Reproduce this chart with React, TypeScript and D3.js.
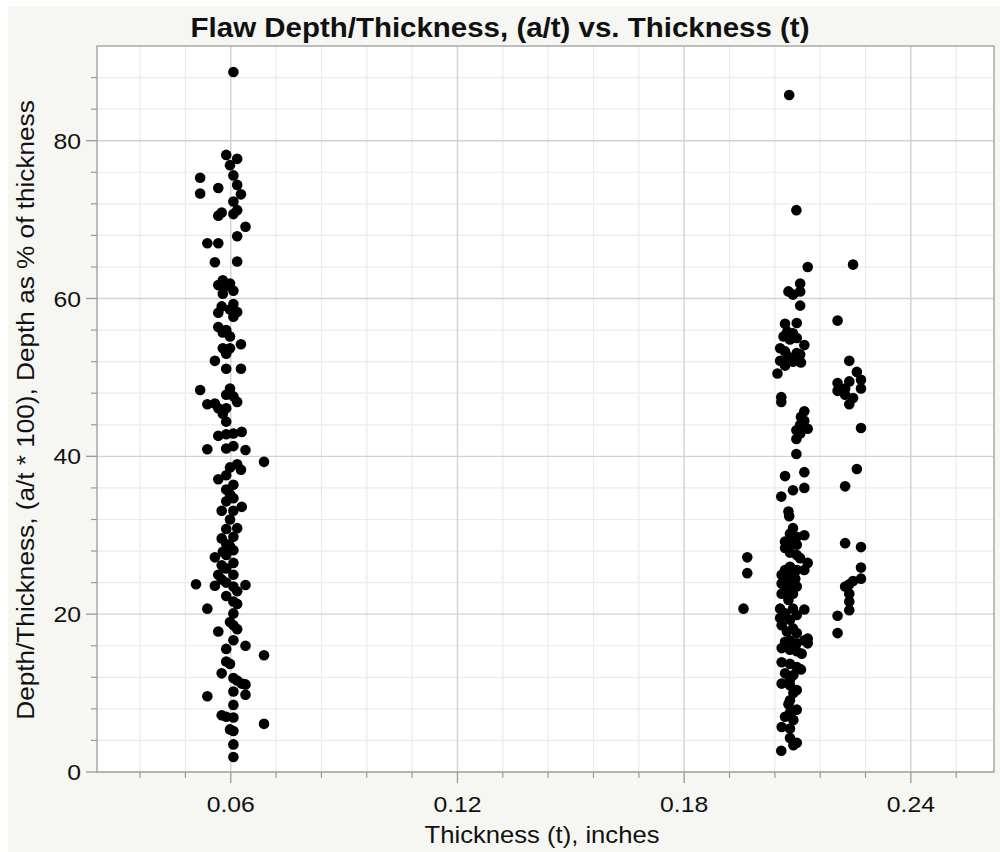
import React from "react";
import * as d3 from "d3";

// Title and axis captions
const chartTitle = "Flaw Depth/Thickness, (a/t) vs. Thickness (t)";
const xAxisTitle = "Thickness (t), inches";
const yAxisTitle = "Depth/Thickness, (a/t * 100), Depth as % of thickness";

// Axis ticks
const xMajorTicks = [0.06, 0.12, 0.18, 0.24];
const yMajorTicks = [0, 20, 40, 60, 80];

// Cluster near t = 0.06 in : [thickness, depth %]
const thinWallFlaws: [number, number][] = [
  [0.0607, 88.7], [0.0588, 78.2], [0.0617, 77.7], [0.0598, 76.9], [0.0519, 75.3], [0.0607, 75.6],
  [0.0617, 74.4], [0.0567, 74.0], [0.0519, 73.3], [0.0627, 73.2], [0.0607, 72.3], [0.0617, 71.2],
  [0.0576, 70.9], [0.0567, 70.5], [0.0607, 70.7], [0.0639, 69.1], [0.0617, 67.9], [0.0538, 67.0],
  [0.0567, 67.0],
  [0.0558, 64.6], [0.0617, 64.7], [0.0579, 62.3], [0.0598, 61.9], [0.0567, 61.7], [0.0588, 61.6],
  [0.0607, 61.0], [0.0579, 60.6], [0.0576, 59.0], [0.0607, 59.3], [0.0567, 58.2], [0.0598, 58.6],
  [0.0617, 58.3], [0.0607, 57.7], [0.0567, 56.4], [0.0588, 56.0], [0.0579, 55.7], [0.0598, 55.2],
  [0.0627, 54.2], [0.0579, 53.7], [0.0598, 53.7], [0.0588, 53.0], [0.0558, 52.1], [0.0588, 51.1],
  [0.0627, 51.1], [0.0519, 48.4], [0.0598, 48.6], [0.0588, 47.8], [0.0607, 47.6], [0.0617, 46.9],
  [0.0538, 46.6], [0.0558, 46.7], [0.0567, 46.1], [0.0588, 46.1], [0.0579, 45.4], [0.0588, 44.4],
  [0.0567, 42.6], [0.0588, 42.8], [0.0607, 42.9], [0.0629, 43.1],
  [0.0538, 40.9], [0.0588, 41.0], [0.0607, 41.3], [0.0639, 40.8], [0.0688, 39.3], [0.0617, 39.0],
  [0.0598, 38.6], [0.0627, 38.3], [0.0588, 37.6], [0.0567, 37.1], [0.0607, 36.4], [0.0588, 35.8],
  [0.0598, 35.2], [0.0607, 34.7], [0.0588, 34.3], [0.0629, 33.6], [0.0576, 33.1], [0.0607, 33.1],
  [0.0598, 32.0], [0.0617, 30.9], [0.0588, 30.8], [0.0607, 29.8], [0.0576, 29.6], [0.0588, 28.9],
  [0.0598, 28.6], [0.0607, 28.1], [0.0579, 27.9], [0.0588, 27.5], [0.0558, 27.2], [0.0607, 26.5],
  [0.0576, 26.2], [0.0588, 25.8], [0.0607, 25.0], [0.0567, 25.0], [0.0576, 24.4], [0.0588, 24.0],
  [0.0508, 23.8], [0.0558, 23.6], [0.0639, 23.7], [0.0607, 23.5], [0.0617, 22.9], [0.0588, 22.3],
  [0.0607, 21.6], [0.0617, 21.3], [0.0538, 20.7], [0.0607, 20.1],
  [0.0598, 19.0], [0.0607, 18.6], [0.0617, 18.1], [0.0567, 17.8], [0.0607, 16.7], [0.0639, 16.0],
  [0.0588, 15.6], [0.0688, 14.8], [0.0588, 14.0], [0.0598, 13.7], [0.0576, 12.5], [0.0607, 11.9],
  [0.0617, 11.6], [0.0629, 11.2], [0.0639, 11.1], [0.0538, 9.6], [0.0607, 10.2], [0.0639, 9.8],
  [0.0607, 8.5], [0.0576, 7.2], [0.0588, 7.0], [0.0607, 6.9], [0.0688, 6.1], [0.0598, 5.4],
  [0.0607, 5.2], [0.0607, 3.5], [0.0607, 1.9],
];

// Cluster near t = 0.21 in : [thickness, depth %]
const thickWallFlaws: [number, number][] = [
  [0.2078, 85.8], [0.2097, 71.2], [0.2127, 64.0], [0.2247, 64.3], [0.2107, 61.9], [0.2076, 60.9],
  [0.2088, 60.5], [0.2107, 60.9],
  [0.2107, 59.1], [0.2206, 57.2], [0.2067, 56.8], [0.2098, 56.9], [0.2073, 55.8], [0.2088, 55.6],
  [0.2063, 55.2], [0.2098, 55.0], [0.2080, 54.8], [0.2118, 54.1], [0.2054, 53.7], [0.2067, 53.3],
  [0.2098, 53.1], [0.2076, 52.6], [0.2107, 52.9], [0.2054, 52.1], [0.2088, 52.0], [0.2109, 51.9],
  [0.2067, 51.5], [0.2047, 50.5],
  [0.2237, 52.1], [0.2257, 50.7], [0.2268, 49.7], [0.2237, 49.5], [0.2206, 49.3], [0.2268, 48.6],
  [0.2226, 48.6], [0.2206, 48.3], [0.2226, 47.8], [0.2247, 47.4], [0.2237, 46.6],
  [0.2057, 47.5], [0.2057, 46.9],
  [0.2118, 45.7], [0.2109, 45.0], [0.2118, 44.5], [0.2107, 44.0], [0.2127, 43.5], [0.2097, 43.3],
  [0.2107, 42.9], [0.2097, 42.2], [0.2268, 43.6], [0.2097, 40.3], [0.2257, 38.4], [0.2067, 37.5],
  [0.2118, 38.0], [0.2226, 36.2], [0.2088, 35.7], [0.2118, 36.0], [0.2057, 34.9],
  [0.2076, 33.0], [0.2078, 32.4], [0.2088, 30.9], [0.2080, 30.2], [0.2118, 30.0], [0.2098, 29.8],
  [0.2067, 29.2], [0.2088, 29.0], [0.2098, 28.8], [0.2226, 29.0], [0.2268, 28.5], [0.2067, 28.4],
  [0.2080, 27.8], [0.2098, 27.5], [0.2107, 27.1], [0.1967, 27.2], [0.2127, 26.5], [0.2080, 26.0],
  [0.2067, 25.6], [0.2098, 25.6], [0.2118, 25.6], [0.2268, 25.9], [0.1967, 25.2], [0.2058, 25.0],
  [0.2080, 24.8], [0.2094, 24.5], [0.2067, 24.3], [0.2058, 23.9], [0.2268, 24.5], [0.2247, 24.2],
  [0.2237, 23.8], [0.2226, 23.5], [0.2088, 23.7], [0.2098, 23.5], [0.2076, 23.3], [0.2067, 22.9],
  [0.2058, 22.6], [0.2088, 22.6], [0.2237, 22.6], [0.2076, 21.8], [0.2237, 21.6], [0.1957, 20.7],
  [0.2118, 20.6], [0.2054, 20.7], [0.2088, 20.7], [0.2237, 20.5], [0.2067, 20.1], [0.2098, 19.9],
  [0.2206, 19.8], [0.2054, 19.5], [0.2080, 19.3], [0.2058, 18.6], [0.2088, 18.2], [0.2072, 17.8],
  [0.2098, 17.6], [0.2206, 17.6], [0.2127, 16.9],
  [0.2067, 16.5], [0.2080, 16.7], [0.2098, 16.3], [0.2118, 16.7], [0.2127, 16.3], [0.2058, 15.7],
  [0.2080, 15.5], [0.2098, 15.3], [0.2111, 15.0], [0.2058, 13.9], [0.2080, 13.7], [0.2098, 13.3],
  [0.2109, 13.0], [0.2067, 12.5], [0.2089, 12.3], [0.2080, 11.7], [0.2058, 11.2], [0.2080, 11.0],
  [0.2098, 10.4], [0.2089, 10.0], [0.2080, 9.1], [0.2076, 8.6], [0.2098, 7.9], [0.2080, 7.5],
  [0.2067, 7.0], [0.2089, 6.6], [0.2058, 5.7], [0.2080, 5.5], [0.2080, 4.3], [0.2098, 3.7],
  [0.2089, 3.4], [0.2057, 2.7],
];

const W = 1000;
const H = 852;
const plot = { left: 97, right: 994, top: 46, bottom: 772 };
const FONT = "'Liberation Sans', Arial, Helvetica, sans-serif";
const STRETCH = 1.1;

const x = d3.scaleLinear().domain([0.0246, 0.262]).range([plot.left, plot.right]);
const y = d3.scaleLinear().domain([0, 92]).range([plot.bottom, plot.top]);

const xMinor = d3.range(0.036, 0.262, 0.012).filter(
  (v) => !xMajorTicks.some((m) => Math.abs(m - v) < 1e-6)
);
const yMinor = d3.range(4, 92, 4).filter((v) => v % 20 !== 0);

function SText(props: {
  x: number;
  y: number;
  size: number;
  anchor?: string;
  weight?: string | number;
  rotate?: number;
  children: React.ReactNode;
}) {
  const { x: tx, y: ty, size, anchor = "middle", weight = "normal", rotate = 0, children } = props;
  return (
    <g transform={`translate(${tx},${ty}) rotate(${rotate}) scale(${STRETCH},1)`}>
      <text
        textAnchor={anchor}
        fontFamily={FONT}
        fontSize={size}
        fontWeight={weight}
        fill="#111"
      >
        {children}
      </text>
    </g>
  );
}

export default function App() {
  const fmtX = d3.format(".2f");
  const all = [...thinWallFlaws, ...thickWallFlaws];
  return (
    <svg
      width={W}
      height={H}
      style={{ position: "absolute", left: 0, top: 0, display: "block" }}
    >
      <rect x={0} y={0} width={W} height={H} fill="#ffffff" />
      <rect x={8} y={6} width={W - 8} height={H - 6} fill="#f6f6f3" />
      <rect
        x={plot.left}
        y={plot.top}
        width={plot.right - plot.left}
        height={plot.bottom - plot.top}
        fill="#ffffff"
      />
      {/* minor grid */}
      {xMinor.map((v) => (
        <line key={"xm" + v} x1={x(v)} x2={x(v)} y1={plot.top} y2={plot.bottom} stroke="#ebebeb" strokeWidth={1.2} />
      ))}
      {yMinor.map((v) => (
        <line key={"ym" + v} x1={plot.left} x2={plot.right} y1={y(v)} y2={y(v)} stroke="#ebebeb" strokeWidth={1.2} />
      ))}
      {/* major grid */}
      {xMajorTicks.map((v) => (
        <line key={"xg" + v} x1={x(v)} x2={x(v)} y1={plot.top} y2={plot.bottom} stroke="#d2d2d2" strokeWidth={1.4} />
      ))}
      {yMajorTicks.map((v) => (
        <line key={"yg" + v} x1={plot.left} x2={plot.right} y1={y(v)} y2={y(v)} stroke="#d2d2d2" strokeWidth={1.4} />
      ))}
      {/* frame */}
      <rect
        x={plot.left}
        y={plot.top}
        width={plot.right - plot.left}
        height={plot.bottom - plot.top}
        fill="none"
        stroke="#a8a8a8"
        strokeWidth={1.5}
      />
      {/* ticks */}
      {xMinor.map((v) => (
        <line key={"xt" + v} x1={x(v)} x2={x(v)} y1={plot.bottom} y2={plot.bottom + 6} stroke="#999" strokeWidth={1.2} />
      ))}
      {xMajorTicks.map((v) => (
        <line key={"xT" + v} x1={x(v)} x2={x(v)} y1={plot.bottom} y2={plot.bottom + 11} stroke="#999" strokeWidth={1.3} />
      ))}
      {yMinor.map((v) => (
        <line key={"yt" + v} x1={plot.left - 6} x2={plot.left} y1={y(v)} y2={y(v)} stroke="#999" strokeWidth={1.2} />
      ))}
      {yMajorTicks.map((v) => (
        <line key={"yT" + v} x1={plot.left - 11} x2={plot.left} y1={y(v)} y2={y(v)} stroke="#999" strokeWidth={1.3} />
      ))}
      {/* tick labels */}
      {xMajorTicks.map((v) => (
        <SText key={"xl" + v} x={x(v)} y={812} size={22.5}>
          {fmtX(v)}
        </SText>
      ))}
      {yMajorTicks.map((v) => (
        <SText key={"yl" + v} x={81} y={y(v) + 8} size={22.5} anchor="end">
          {String(v)}
        </SText>
      ))}
      {/* titles */}
      <SText x={500} y={37} size={26.8} weight="bold">
        {chartTitle}
      </SText>
      <SText x={542} y={843} size={23.3}>
        {xAxisTitle}
      </SText>
      <SText x={34} y={410} size={23.8} rotate={-90}>
        {yAxisTitle}
      </SText>
      {/* points */}
      <g>
        {all.map((d, i) => (
          <circle key={i} cx={x(d[0])} cy={y(d[1])} r={5.3} fill="#000" />
        ))}
      </g>
    </svg>
  );
}
